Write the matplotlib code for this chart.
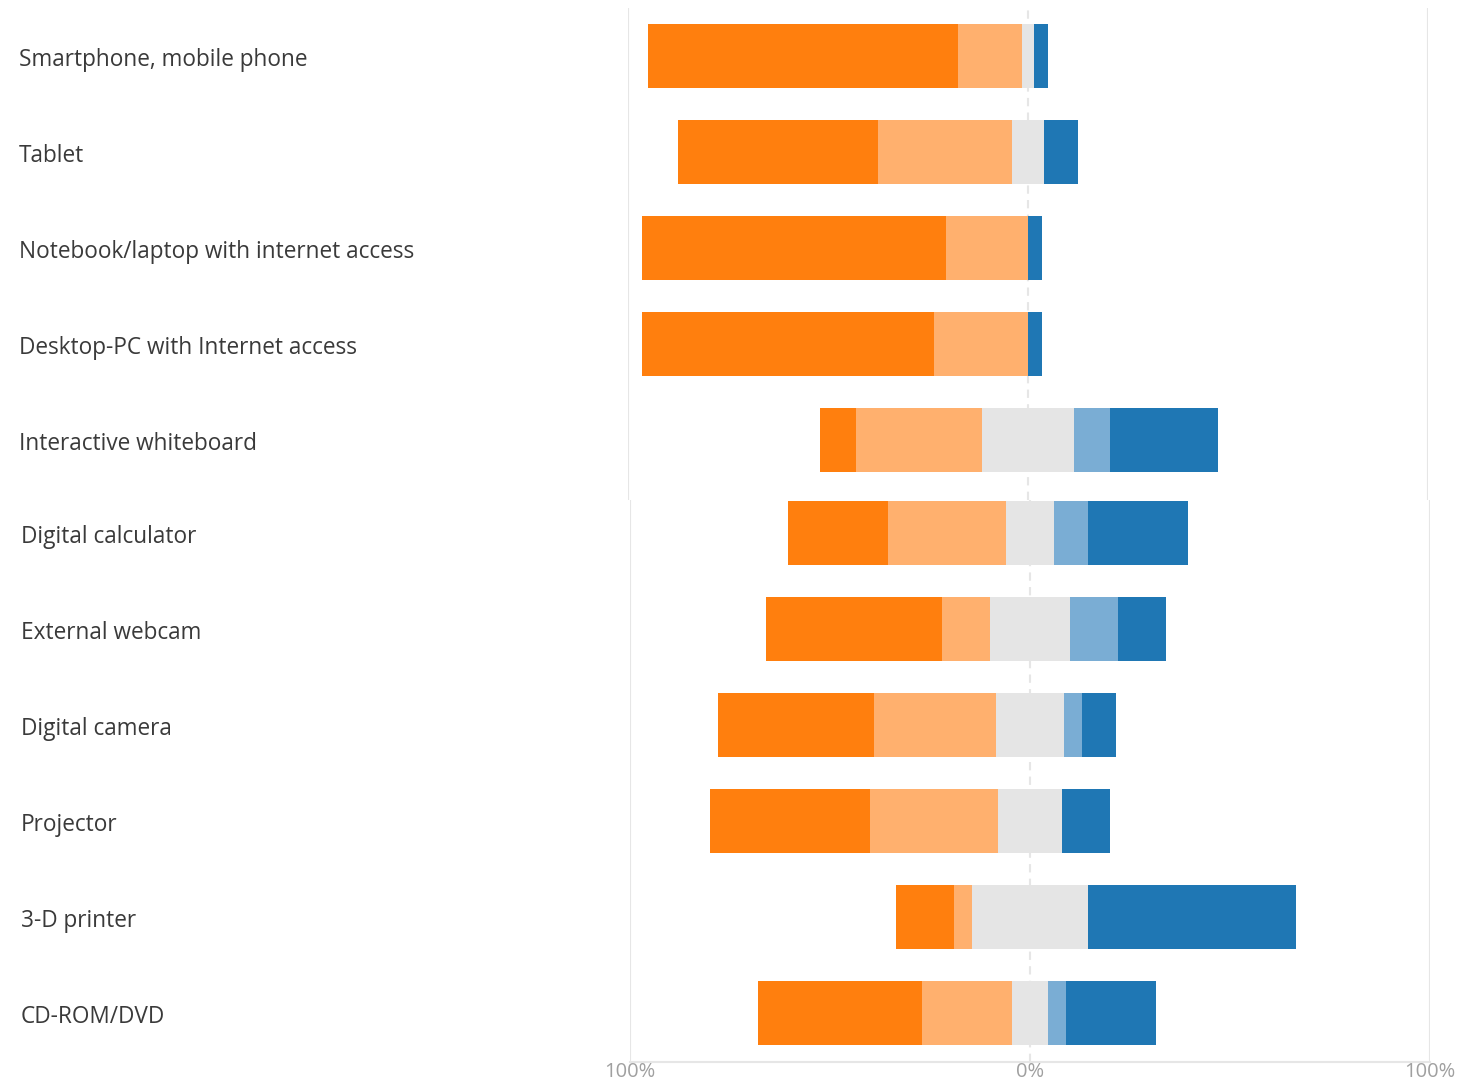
import matplotlib.pyplot as plt
from matplotlib.transforms import blended_transform_factory

plt.rcParams['font.family'] = ['Open Sans', 'DejaVu Sans']

# devices, top panel then bottom panel
devices_top = ["Smartphone, mobile phone", "Tablet", "Notebook/laptop with internet access",
               "Desktop-PC with Internet access", "Interactive whiteboard"]
devices_bottom = ["Digital calculator", "External webcam", "Digital camera", "Projector",
                  "3-D printer", "CD-ROM/DVD"]

# shares in percent, from most negative to most positive answer
neg2_top = [77.5, 50.0, 76.0, 73.0, 9.0]
neg1_top = [16.0, 33.5, 20.5, 23.5, 31.5]
neutral_top = [3.0, 8.0, 0.0, 0.0, 23.0]
pos1_top = [0.0, 0.0, 0.0, 0.0, 9.0]
pos2_top = [3.5, 8.5, 3.5, 3.5, 27.0]

neg2_bottom = [25.0, 44.0, 39.0, 40.0, 14.5, 41.0]
neg1_bottom = [29.5, 12.0, 30.5, 32.0, 4.5, 22.5]
neutral_bottom = [12.0, 20.0, 17.0, 16.0, 29.0, 9.0]
pos1_bottom = [8.5, 12.0, 4.5, 0.0, 0.0, 4.5]
pos2_bottom = [25.0, 12.0, 8.5, 12.0, 52.0, 22.5]

colors = ["#ff7f0e", "#ffb06e", "#e5e5e5", "#7aadd4", "#1f77b4"]
grid_col = "#e6e6e6"

W, H = 1458, 1084
fig = plt.figure(figsize=(W / 100, H / 100), dpi=100)


def px_axes(x0, y0, x1, y1):
    return fig.add_axes([x0 / W, 1 - y1 / H, (x1 - x0) / W, (y1 - y0) / H])


def draw(ax, names, series, ylim, label_x, ticks=False):
    neg2, neg1, neu, pos1, pos2 = series
    for i in range(len(names)):
        left = -(neg2[i] + neg1[i] + neu[i] / 2)
        for vals, c in zip(series, colors):
            v = vals[i]
            if v > 0:
                ax.barh(i, v, left=left, height=0.667, color=c, linewidth=0, zorder=3)
            left += v
    for x in (-100, 100):
        ax.axvline(x, color=grid_col, lw=1.5, zorder=1)
    ax.axvline(0, color=grid_col, lw=1.5, ls=(0, (4, 3)), zorder=1)
    ax.set_xlim(-100, 100)
    ax.set_ylim(*ylim)
    for s in ax.spines.values():
        s.set_visible(False)
    ax.set_yticks([])
    tr = blended_transform_factory(fig.transFigure, ax.transData)
    for i, n in enumerate(names):
        ax.text(label_x / W, i + 0.04, n, transform=tr, ha='left', va='center',
                fontsize=16.3, color='#3a3a3a')
    if ticks:
        ax.spines['bottom'].set_visible(True)
        ax.spines['bottom'].set_color(grid_col)
        ax.spines['bottom'].set_linewidth(1.5)
        ax.set_xticks([-100, 0, 100])
        ax.set_xticklabels(["100%", "0%", "100%"], color='#a0a0a0', fontsize=14.5)
        ax.tick_params(axis='x', length=0, pad=0)
    else:
        ax.set_xticks([])


ax1 = px_axes(628, 8, 1428, 500)
draw(ax1, devices_top, [neg2_top, neg1_top, neutral_top, pos1_top, pos2_top],
     (4.625, -0.5), 19)

ax2 = px_axes(630, 500, 1430, 1062)
draw(ax2, devices_bottom, [neg2_bottom, neg1_bottom, neutral_bottom, pos1_bottom, pos2_bottom],
     (5.51, -0.344), 21, ticks=True)

fig.savefig("out.png", dpi=100, facecolor='white')
